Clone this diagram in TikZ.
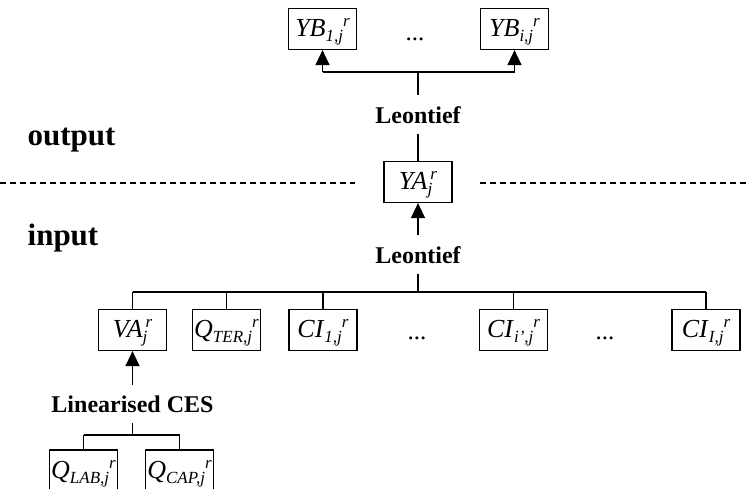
\documentclass[tikz,border=0pt]{standalone}
\usepackage{fontspec}
\setmainfont{Liberation Serif}
\usetikzlibrary{arrows.meta}
% variable names: italic stem, subscript, superscript
\newcommand\subsz{\fontsize{17}{17}\selectfont\itshape}
\newcommand\vstg[3]{\textit{#1}\raisebox{-5pt}{\subsz #2}\raisebox{10pt}{\subsz #3}}
\newcommand\vstk[3]{\textit{#1}\makebox[0pt][l]{\raisebox{-5pt}{\subsz #2}}\raisebox{10pt}{\subsz\,#3}}
\begin{document}
\begin{tikzpicture}[x=1pt,y=-1pt,
  line width=1.3pt,
  box/.style={draw, line width=1.2pt, minimum width=68pt, text height=20pt, text depth=5pt,
    inner xsep=1pt, inner ysep=8pt, font=\fontsize{26}{30}\selectfont},
  lbl/.style={font=\fontsize{24}{28}\selectfont\bfseries, inner xsep=1pt, inner ysep=10pt, anchor=base},
  side/.style={font=\fontsize{31}{36}\selectfont\bfseries, inner sep=0pt, anchor=base west},
  dots/.style={font=\fontsize{25}{30}\selectfont, inner sep=0pt, anchor=base},
  arr/.style={-{Triangle[length=15pt,width=14pt]}},
  sep/.style={dash pattern=on 6pt off 4pt, line width=1.2pt}]
\useasboundingbox (0,0) rectangle (748,488);

% output level
\node[box] (YB1) at (322.5,29) {\vstg{YB}{1,j}{r}};
\node[box] (YBi) at (514.5,29) {\vstg{YB}{i,j}{r}};
\node[dots] (d0) at (415,40) {...};
\node[lbl] (L1) at (418,123) {Leontief};
\node[box] (YA) at (418,182) {\vstk{YA}{j}{r}};

% separator between output and input
\node[side] (out) at (27,145) {output};
\node[side] (in) at (27,245) {input};
\coordinate (dl0) at (0,183);
\coordinate (dl1) at (355,183);
\coordinate (dr0) at (480,183);
\coordinate (dr1) at (748,183);
\draw[sep] (dl0) -- (dl1);
\draw[sep] (dr0) -- (dr1);

% input level
\node[lbl] (L2) at (418,263) {Leontief};
\node[box] (VA) at (132.5,330) {\vstk{VA}{j}{r}};
\node[box] (QT) at (226.5,330) {\vstg{Q}{TER,j}{r}};
\node[box] (C1) at (323,330) {\vstg{CI}{1,j}{r}};
\node[dots] (d1) at (417,339) {...};
\node[box] (Ci) at (513.5,330) {\vstg{CI}{i',j}{r}};
\node[dots] (d2) at (605,339) {...};
\node[box] (CI) at (706,330) {\vstg{CI}{I,j}{r}};

% value added
\node[lbl] (LC) at (132.5,412) {Linearised CES};
\node[box] (QL) at (83.5,470.5) {\vstg{Q}{LAB,j}{r}};
\node[box] (QC) at (179.5,470.5) {\vstg{Q}{CAP,j}{r}};

% connectors
\coordinate (tbar) at (418,72);
\draw (YB1.south |- tbar) -- (YBi.south |- tbar);
\draw[arr] (YB1.south |- tbar) -- (YB1.south);
\draw[arr] (YBi.south |- tbar) -- (YBi.south);
\draw (tbar) -- (L1.north);
\draw (L1.south) -- (YA.north);
\draw[arr] (L2.north) -- (YA.south);

\coordinate (lbar) at (418,292);
\draw (L2.south) -- (lbar);
\draw (VA.north |- lbar) -- (CI.north |- lbar);
\foreach \n in {VA,QT,C1,Ci,CI} \draw (\n.north |- lbar) -- (\n.north);

\draw[arr] (LC.north) -- (VA.south);
\coordinate (cbar) at (132.5,435);
\draw (LC.south) -- (cbar);
\draw (QL.north |- cbar) -- (QC.north |- cbar);
\foreach \n in {QL,QC} \draw (\n.north |- cbar) -- (\n.north);
\end{tikzpicture}
\end{document}
